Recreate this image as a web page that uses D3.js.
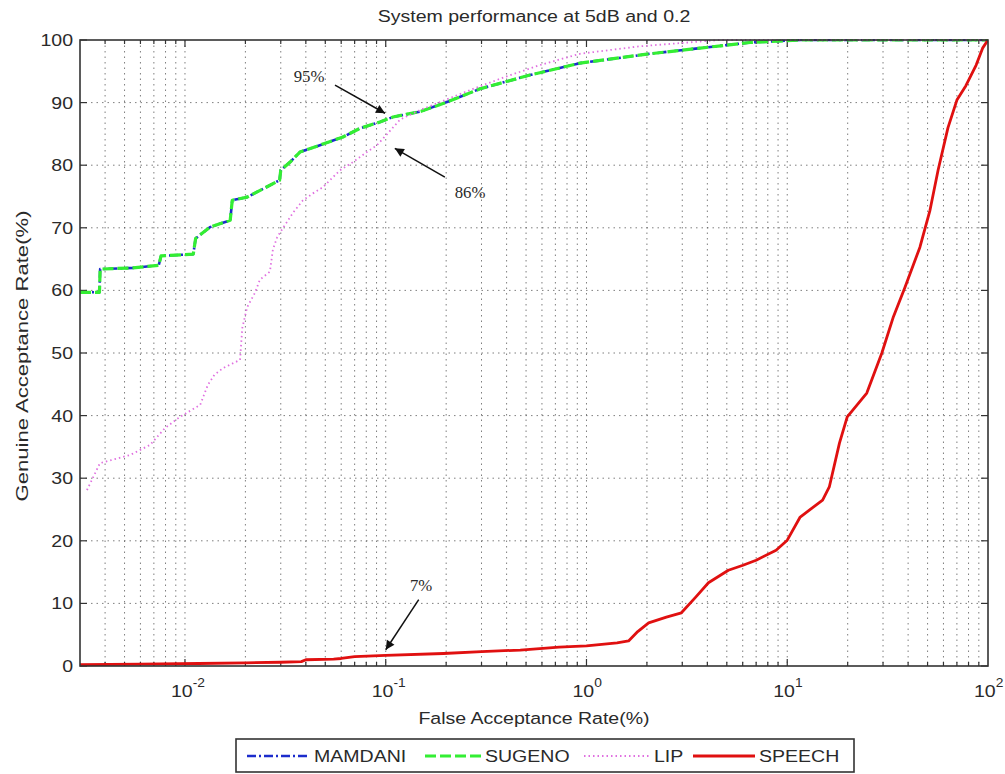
<!DOCTYPE html>
<html><head><meta charset="utf-8">
<script src="https://cdn.jsdelivr.net/npm/d3@7/dist/d3.min.js"></script>
<style>body{margin:0;background:#fff}svg{display:block}</style>
</head><body><svg id="c" width="1005" height="774"></svg>
<script>
// ---------- data ----------
const chartTitle = "System performance at 5dB and 0.2";
const xAxisLabel = "False Acceptance Rate(%)";
const yAxisLabel = "Genuine Acceptance Rate(%)";
const xTickExponents = [-2, -1, 0, 1, 2];
const yTickValues = [0, 10, 20, 30, 40, 50, 60, 70, 80, 90, 100];
const seriesNames = ["MAMDANI", "SUGENO", "LIP", "SPEECH"];

// [FAR %, GAR %]
const mamdani = [[0.003,59.7],[0.00375,59.7],[0.00378,63.4],[0.0055,63.6],[0.0074,64.0],[0.0076,65.5],[0.0110,65.8],[0.0113,68.3],[0.0133,70.1],[0.0168,71.2],[0.0172,74.4],[0.0204,74.9],[0.0296,77.6],[0.0300,79.2],[0.0334,80.5],[0.0374,82.1],[0.047,83.2],[0.0612,84.5],[0.0745,85.9],[0.0936,86.9],[0.1087,87.7],[0.15,88.6],[0.202,90.1],[0.295,92.2],[0.523,94.4],[0.928,96.3],[2.07,97.8],[3.68,98.7],[6.52,99.6],[11.6,100],[100,100]];
const sugeno  = [[0.003,59.7],[0.00375,59.7],[0.00378,63.4],[0.0055,63.6],[0.0074,64.0],[0.0076,65.5],[0.0110,65.8],[0.0113,68.3],[0.0133,70.1],[0.0168,71.2],[0.0172,74.4],[0.0204,74.9],[0.0296,77.6],[0.0300,79.2],[0.0334,80.5],[0.0374,82.1],[0.047,83.2],[0.0612,84.5],[0.0745,85.9],[0.0936,86.9],[0.1087,87.7],[0.15,88.6],[0.202,90.1],[0.295,92.2],[0.523,94.4],[0.928,96.3],[2.07,97.8],[3.68,98.7],[6.52,99.6],[11.6,100],[100,100]];
const lip = [[0.00325,28.1],[0.00377,32.4],[0.00532,33.7],[0.00669,35.3],[0.00795,38.0],[0.00944,39.8],[0.0119,41.7],[0.0130,44.9],[0.0140,46.5],[0.0155,47.6],[0.0188,48.9],[0.0193,54.0],[0.0204,57.3],[0.0223,59.6],[0.0236,61.7],[0.0265,63.0],[0.0274,66.5],[0.0288,68.5],[0.0308,70.0],[0.0345,72.4],[0.0387,74.4],[0.0434,75.5],[0.0487,76.5],[0.0592,79.2],[0.0687,80.5],[0.0806,82.1],[0.0904,83.2],[0.0992,84.6],[0.118,87.3],[0.148,88.8],[0.263,92.0],[0.393,94.1],[0.587,96.0],[0.928,97.8],[1.85,99.0],[2.92,99.5],[4.62,100],[100,100]];
const speech = [[0.003,0.2],[0.006,0.3],[0.0117,0.4],[0.02,0.5],[0.03,0.6],[0.038,0.7],[0.04,1.0],[0.055,1.1],[0.06,1.2],[0.07,1.5],[0.1,1.7],[0.194,2.0],[0.3,2.3],[0.468,2.55],[0.73,3.0],[1.0,3.2],[1.42,3.7],[1.62,4.0],[1.8,5.5],[2.04,6.9],[2.5,7.8],[2.97,8.5],[3.5,11.0],[4.05,13.3],[5.09,15.3],[6.02,16.1],[7.0,16.9],[8.8,18.5],[10,20.1],[11.6,23.8],[15,26.5],[16.2,28.6],[18.2,35.6],[19.9,39.8],[24.9,43.6],[29.6,50.0],[33.8,55.8],[38.6,60.5],[45.8,66.9],[51.4,72.8],[56.4,79.2],[63.2,86.0],[70,90.4],[77.6,92.7],[87.3,96.0],[94,98.7],[100,100]];

const annotationTexts = ["95%", "86%", "7%"];
const annotationTextAt = [[0.0415,94.2],[0.263,75.7],[0.150,12.9]];
const annotationArrowFrom = [[0.0559,92.8],[0.197,78.1],[0.146,10.6]];
const annotationArrowTo = [[0.0992,88.3],[0.111,82.7],[0.100,2.6]];

// ---------- layout / style ----------
const W = 1005, H = 774;
const L = 80, R = 988, T = 40, B = 666;
const FONT = "'Liberation Sans', Arial, sans-serif";
const TXT = "#2a2a2a";
const styles = [
  {color:"#1c2ccc", width:2.6, dash:"9,3,2,3"},
  {color:"#33ee33", width:3.2, dash:"11,4"},
  {color:"#e070e0", width:1.8, dash:"1.5,3"},
  {color:"#e01010", width:2.8, dash:null}
];
const legendLineX = [247, 425, 584, 693];
const legendLineLen = [63, 56, 66, 62];

const svg = d3.select("#c");
svg.append("rect").attr("width", W).attr("height", H).attr("fill", "#fff");

const x = d3.scaleLog().domain([0.003, 100]).range([L, R]);
const y = d3.scaleLinear().domain([0, 100]).range([B, T]);

function label(parent, px, py, s, opt = {}) {
  const size = opt.size || 17, sx = opt.sx || 1.15, rot = opt.rot || 0;
  return parent.append("text")
    .attr("transform", `translate(${px},${py})${rot ? ` rotate(${rot})` : ""} scale(${sx},1)`)
    .attr("text-anchor", opt.anchor || "middle")
    .style("font-family", opt.family || FONT)
    .style("font-size", size + "px")
    .attr("fill", TXT)
    .text(s);
}

// grid
const grid = svg.append("g");
const minorX = x.ticks().filter(v => v > 0.003 && v < 100);
grid.selectAll("line.gx").data(minorX).join("line")
  .attr("x1", d => x(d)).attr("x2", d => x(d)).attr("y1", T).attr("y2", B)
  .attr("stroke", "#555").attr("stroke-width", 1).attr("stroke-dasharray", "1.5,4").attr("opacity", 0.75);
grid.selectAll("line.gy").data(yTickValues.filter(v => v > 0 && v < 100)).join("line")
  .attr("x1", L).attr("x2", R).attr("y1", d => y(d)).attr("y2", d => y(d))
  .attr("stroke", "#555").attr("stroke-width", 1).attr("stroke-dasharray", "1.5,4").attr("opacity", 0.75);

// ticks
const tk = svg.append("g").attr("stroke", "#333").attr("stroke-width", 1.2);
const majorX = xTickExponents.map(e => Math.pow(10, e));
minorX.forEach(v => {
  const isMajor = majorX.some(m => Math.abs(Math.log10(m) - Math.log10(v)) < 1e-6);
  const len = isMajor ? 7 : 4;
  tk.append("line").attr("x1", x(v)).attr("x2", x(v)).attr("y1", B).attr("y2", B - len);
  tk.append("line").attr("x1", x(v)).attr("x2", x(v)).attr("y1", T).attr("y2", T + len);
});
yTickValues.forEach(v => {
  tk.append("line").attr("x1", L).attr("x2", L + 7).attr("y1", y(v)).attr("y2", y(v));
  tk.append("line").attr("x1", R).attr("x2", R - 7).attr("y1", y(v)).attr("y2", y(v));
});

// series
const clip = svg.append("clipPath").attr("id", "pc").append("rect")
  .attr("x", L).attr("y", T - 1).attr("width", R - L).attr("height", B - T + 2);
const line = d3.line().x(d => x(d[0])).y(d => y(d[1]));
const allSeries = [mamdani, sugeno, lip, speech];
const plotG = svg.append("g").attr("clip-path", "url(#pc)");
allSeries.forEach((s, i) => {
  plotG.append("path").datum(s).attr("d", line)
    .attr("fill", "none").attr("stroke", styles[i].color)
    .attr("stroke-width", styles[i].width)
    .attr("stroke-linejoin", "round")
    .attr("stroke-dasharray", styles[i].dash);
});

// frame
svg.append("rect").attr("x", L).attr("y", T).attr("width", R - L).attr("height", B - T)
  .attr("fill", "none").attr("stroke", "#333").attr("stroke-width", 1.6);

// tick labels
yTickValues.forEach(v => label(svg, 73, y(v) + 6, String(v), {anchor: "end"}));
xTickExponents.forEach(e => {
  const t = svg.append("text")
    .attr("transform", `translate(${x(Math.pow(10, e)) - 14},${B + 31}) scale(1.15,1)`)
    .style("font-family", FONT).attr("fill", TXT).style("font-size", "17px");
  t.append("tspan").text("10");
  t.append("tspan").attr("dy", -10).style("font-size", "12px").text(String(e));
});

// titles
label(svg, (L + R) / 2, 22, chartTitle);
label(svg, (L + R) / 2, 724, xAxisLabel);
label(svg, 28, 356, yAxisLabel, {rot: -90, sx: 1.3});

// annotations
const defs = svg.append("defs");
defs.append("marker").attr("id", "ah").attr("viewBox", "0 0 10 10").attr("refX", 10).attr("refY", 5)
  .attr("markerWidth", 12).attr("markerHeight", 9).attr("markerUnits", "userSpaceOnUse").attr("orient", "auto")
  .append("path").attr("d", "M0,0 L10,5 L0,10 z").attr("fill", "#111");
annotationTexts.forEach((t, i) => {
  svg.append("line")
    .attr("x1", x(annotationArrowFrom[i][0])).attr("y1", y(annotationArrowFrom[i][1]))
    .attr("x2", x(annotationArrowTo[i][0])).attr("y2", y(annotationArrowTo[i][1]))
    .attr("stroke", "#111").attr("stroke-width", 1.5).attr("marker-end", "url(#ah)");
  label(svg, x(annotationTextAt[i][0]), y(annotationTextAt[i][1]) + 6, t,
    {family: "'Liberation Serif', 'Times New Roman', serif", size: 16, sx: 1.05});
});

// legend
const lg = svg.append("g");
lg.append("rect").attr("x", 236).attr("y", 739).attr("width", 618).attr("height", 33)
  .attr("fill", "#fff").attr("stroke", "#333").attr("stroke-width", 1.6);
seriesNames.forEach((n, i) => {
  const lx = legendLineX[i];
  lg.append("line").attr("x1", lx).attr("x2", lx + legendLineLen[i]).attr("y1", 756).attr("y2", 756)
    .attr("stroke", styles[i].color).attr("stroke-width", styles[i].width)
    .attr("stroke-dasharray", styles[i].dash);
  label(lg, lx + legendLineLen[i] + 4, 762, n, {anchor: "start"});
});
</script>
</body></html>
